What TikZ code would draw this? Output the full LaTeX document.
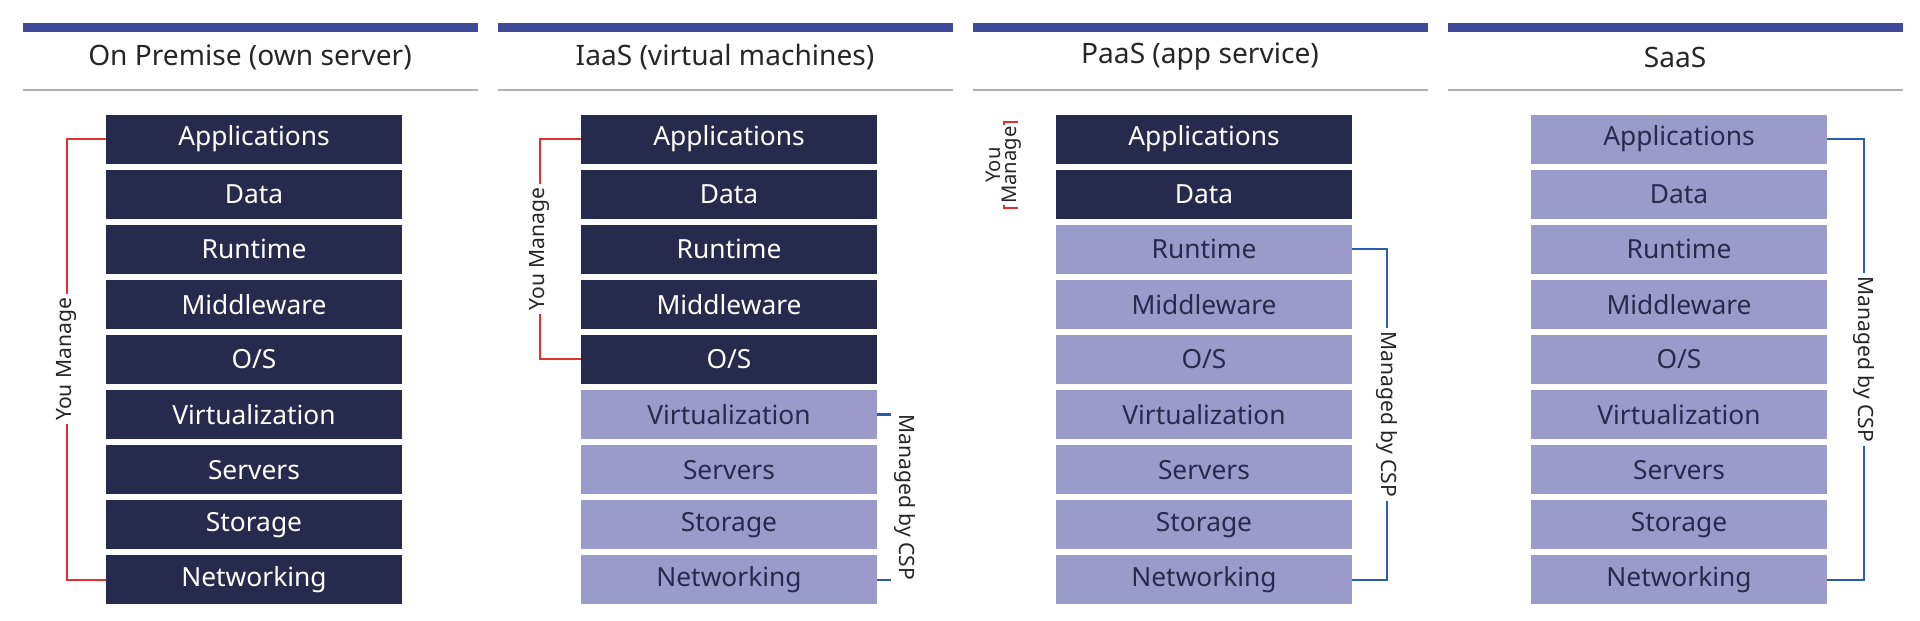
\documentclass[tikz,border=0pt]{standalone}
\usepackage{fontspec}
\setmainfont{Noto Sans}
\usetikzlibrary{calc}
\definecolor{navy}{HTML}{262B4D}
\definecolor{lav}{HTML}{9B9BCB}
\definecolor{barblue}{HTML}{3F4A9A}
\definecolor{rulegray}{HTML}{AEB0B3}
\definecolor{youred}{HTML}{E03131}
\definecolor{cspblue}{HTML}{2B5EA8}
\tikzset{
  layer/.style={minimum width=296*0.02cm, minimum height=49*0.02cm, inner sep=0pt, font=\fontsize{15}{17}\selectfont},
  mine/.style={layer, fill=navy, text=white},
  theirs/.style={layer, fill=lav, text=navy},
  coltitle/.style={font=\fontsize{16}{18}\selectfont, text=black!85},
  youline/.style={youred, line width=1.2pt},
  cspline/.style={cspblue, line width=1.2pt},
  sidelabel/.style={fill=white, inner sep=2pt, font=\fontsize{12}{13}\selectfont, text=black!85, align=center}
}
\begin{document}
\begin{tikzpicture}[x=0.02cm, y=-0.02cm]
\useasboundingbox (0,0) rectangle (1920,620);
% headers
\foreach \k/\title in {0/On Premise (own server),1/IaaS (virtual machines),2/PaaS (app service),3/SaaS} {
  \fill[barblue] (23+475*\k,23) rectangle (478+475*\k,32);
  \node[coltitle] (title-\k) at (250+475*\k,57) {\title};
  \draw[rulegray, line width=1.5pt] (23+475*\k,90) -- (478+475*\k,90);
}
% layer stacks: \n = number of layers the user manages
\foreach \k/\n in {0/9,1/5,2/2,3/0} {
  \foreach \i/\txt in {0/Applications,1/Data,2/Runtime,3/Middleware,4/{O/S},5/Virtualization,6/Servers,7/Storage,8/Networking} {
    \ifnum\i<\n \def\sty{mine}\else\def\sty{theirs}\fi
    \node[\sty] (b-\k-\i) at (254+475*\k,139+55.1*\i) {\txt};
  }
}
% brackets
\draw[youline] (b-0-0.west) -- ++(-39,0) coordinate (t0) -- (t0 |- b-0-8.west)
  node[midway, sidelabel, rotate=90] {You Manage} -- (b-0-8.west);
\draw[youline] (b-1-0.west) -- ++(-41,0) coordinate (t1) -- (t1 |- b-1-4.west)
  node[midway, sidelabel, rotate=90] {You Manage} -- (b-1-4.west);
\draw[cspline] (b-1-5.east) -- ++(28,0) coordinate (t2) -- (t2 |- b-1-8.east)
  node[midway, sidelabel, rotate=-90] {Managed by CSP} -- (b-1-8.east);
\coordinate (y0) at ($(b-2-0.west)+(-52,-17)$);
\coordinate (y1) at ($(b-2-1.west)+(-52,14)$);
\draw[youline] ($(y0)+(14,0)$) -- (y0) -- (y1)
  node[midway, sidelabel, rotate=90, inner sep=1pt, font=\fontsize{11.5}{11.5}\selectfont] {You\\[-2pt]Manage} -- ($(y1)+(14,0)$);
\draw[cspline] (b-2-2.east) -- ++(35,0) coordinate (t3) -- (t3 |- b-2-8.east)
  node[midway, sidelabel, rotate=-90] {Managed by CSP} -- (b-2-8.east);
\draw[cspline] (b-3-0.east) -- ++(37,0) coordinate (t4) -- (t4 |- b-3-8.east)
  node[midway, sidelabel, rotate=-90] {Managed by CSP} -- (b-3-8.east);
\end{tikzpicture}
\end{document}
